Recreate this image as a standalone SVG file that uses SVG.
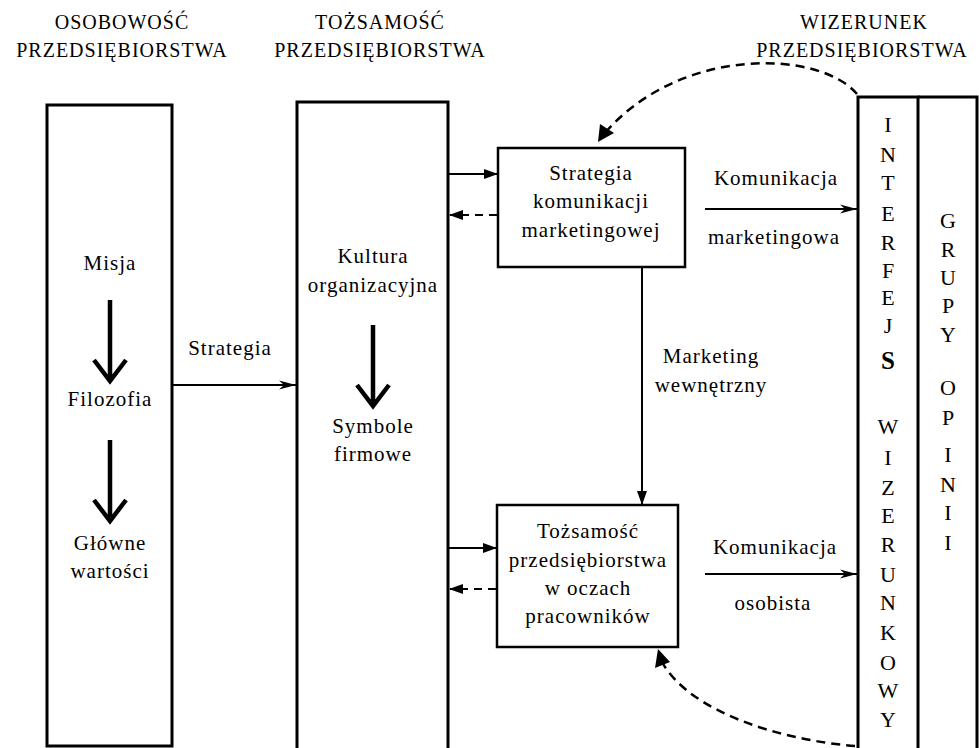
<svg xmlns="http://www.w3.org/2000/svg" width="979" height="748" viewBox="0 0 979 748">
<style>
text{font-family:"Liberation Serif","Times New Roman",serif;fill:#000;text-anchor:middle}
.h{font-size:20px;letter-spacing:1px}
.t{font-size:21px;letter-spacing:1px}
.v{font-size:22px}
.col{fill:none;stroke:#000;stroke-width:3}
.box{fill:#fff;stroke:#000;stroke-width:2.5}
.ln{fill:none;stroke:#000;stroke-width:2}
.dash{fill:none;stroke:#000;stroke-width:2.5;stroke-dasharray:9 6}
.thick{fill:none;stroke:#000;stroke-width:4.5;stroke-linejoin:miter}
</style>
<defs>
<marker id="fa" markerWidth="14" markerHeight="10" refX="13" refY="5" orient="auto" markerUnits="userSpaceOnUse">
<path d="M0,0 L14,5 L0,10 Z" fill="#000"/>
</marker>
<marker id="oa" markerWidth="18" markerHeight="10" refX="17" refY="5" orient="auto" markerUnits="userSpaceOnUse">
<path d="M0,0.5 L17,5 L0,9.5 L5,5 Z" fill="#000"/>
</marker>
</defs>

<text class="h" x="122" y="29">OSOBOWOŚĆ</text>
<text class="h" x="122" y="57">PRZEDSIĘBIORSTWA</text>
<text class="h" x="380" y="29">TOŻSAMOŚĆ</text>
<text class="h" x="380" y="57">PRZEDSIĘBIORSTWA</text>
<text class="h" x="864" y="29">WIZERUNEK</text>
<text class="h" x="862" y="57">PRZEDSIĘBIORSTWA</text>

<g id="osobowosc">
<path class="col" d="M47,105 H172 V746 H47 Z"/>
<text class="t" x="110" y="270">Misja</text>
<path class="thick" d="M110,300 V380 M94,360 L110,381 L126,360"/>
<text class="t" x="110" y="406">Filozofia</text>
<path class="thick" d="M110,440 V520 M94,500 L110,521 L126,500"/>
<text class="t" x="110" y="550">Główne</text>
<text class="t" x="110" y="578">wartości</text>
</g>

<g id="tozsamosc">
<path class="col" d="M297,750 V102 H448 V750"/>
<text class="t" x="373" y="263">Kultura</text>
<text class="t" x="373" y="292">organizacyjna</text>
<path class="thick" d="M373,325 V405 M357,385 L373,406 L389,385"/>
<text class="t" x="373" y="433">Symbole</text>
<text class="t" x="373" y="461">firmowe</text>
</g>

<g id="strategia-kom">
<rect class="box" x="498" y="148" width="187" height="119"/>
<text class="t" x="591" y="180">Strategia</text>
<text class="t" x="591" y="208">komunikacji</text>
<text class="t" x="591" y="237">marketingowej</text>
</g>

<g id="tozsamosc-pracownikow">
<rect class="box" x="497" y="505" width="181" height="142"/>
<text class="t" x="588" y="538">Tożsamość</text>
<text class="t" x="588" y="567">przedsiębiorstwa</text>
<text class="t" x="588" y="595">w oczach</text>
<text class="t" x="588" y="623">pracowników</text>
</g>

<g id="interfejs">
<path class="col" d="M858,750 V97 H918 V750"/>
<text class="v" x="888" y="132">I</text>
<text class="v" x="888" y="162">N</text>
<text class="v" x="888" y="190">T</text>
<text class="v" x="888" y="221">E</text>
<text class="v" x="888" y="250">R</text>
<text class="v" x="888" y="278">F</text>
<text class="v" x="888" y="305">E</text>
<text class="v" x="888" y="333">J</text>
<text class="v" x="888" y="369" style="font-size:25px;font-weight:bold">S</text>
<text class="v" x="888" y="434">W</text>
<text class="v" x="888" y="465">I</text>
<text class="v" x="888" y="495">Z</text>
<text class="v" x="888" y="523">E</text>
<text class="v" x="888" y="552">R</text>
<text class="v" x="888" y="582">U</text>
<text class="v" x="888" y="610">N</text>
<text class="v" x="888" y="640">K</text>
<text class="v" x="888" y="670">O</text>
<text class="v" x="888" y="698">W</text>
<text class="v" x="888" y="727">Y</text>
</g>

<g id="grupy-opinii">
<path class="col" d="M918,97 H977 V750"/>
<text class="v" x="948" y="228">G</text>
<text class="v" x="948" y="257">R</text>
<text class="v" x="948" y="285">U</text>
<text class="v" x="948" y="313">P</text>
<text class="v" x="948" y="342">Y</text>
<text class="v" x="948" y="395">O</text>
<text class="v" x="948" y="425">P</text>
<text class="v" x="948" y="462">I</text>
<text class="v" x="948" y="492">N</text>
<text class="v" x="948" y="520">I</text>
<text class="v" x="948" y="550">I</text>
</g>

<g id="connectors">
<path class="ln" d="M172,385 H296" marker-end="url(#oa)"/>
<text class="t" x="230" y="355">Strategia</text>

<path class="ln" d="M449,174 H497" marker-end="url(#fa)"/>
<path class="ln" d="M497,215 H450" stroke-dasharray="8 6" marker-end="url(#fa)"/>
<path class="ln" d="M449,548 H496" marker-end="url(#fa)"/>
<path class="ln" d="M496,589 H450" stroke-dasharray="8 6" marker-end="url(#fa)"/>

<path class="ln" d="M642,267 V504" marker-end="url(#fa)"/>
<text class="t" x="711" y="363">Marketing</text>
<text class="t" x="711" y="392">wewnętrzny</text>

<path class="ln" d="M705,209 H857" marker-end="url(#oa)"/>
<text class="t" x="776" y="185">Komunikacja</text>
<text class="t" x="774" y="244">marketingowa</text>

<path class="ln" d="M705,574 H857" marker-end="url(#oa)"/>
<text class="t" x="775" y="554">Komunikacja</text>
<text class="t" x="773" y="610">osobista</text>

<path class="dash" d="M857,94 C820,50 680,45 604,134"/>
<path d="M598,142 L600,124 L614,133 Z" fill="#000"/>
<path class="dash" d="M855,746 C780,740 690,712 662,662"/>
<path d="M658,649 L655,668 L670,662 Z" fill="#000"/>
</g>
</svg>
